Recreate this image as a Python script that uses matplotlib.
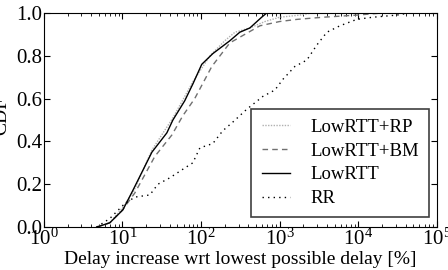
import numpy as np
import matplotlib
matplotlib.use("Agg")
import matplotlib.pyplot as plt

plt.rcParams['font.family'] = ['Liberation Serif', 'DejaVu Serif']
plt.rcParams['mathtext.fontset'] = 'stix'

# CDF curves (x = delay increase in %, y = CDF)
rp_x = [4.7, 6.9, 10, 14, 23.7, 43.8, 79, 130, 200, 270, 418, 650, 1000, 1800, 2560, 1e5]
rp_y = [0.0, 0.02, 0.09, 0.17, 0.36, 0.51, 0.68, 0.80, 0.87, 0.91, 0.93, 0.96, 0.98, 0.99, 1.0, 1.0]

bm_x = [4.7, 6.9, 10, 14.4, 25.8, 42.5, 58.6, 83, 137, 232, 560, 1000, 1660, 3550, 9600, 20500, 1e5]
bm_y = [0.0, 0.02, 0.08, 0.16, 0.33, 0.43, 0.52, 0.60, 0.75, 0.86, 0.94, 0.96, 0.97, 0.98, 0.99, 1.0, 1.0]

low_x = [4.7, 6.9, 10.1, 13.5, 23.7, 36.7, 43.8, 62, 79, 102, 141, 232, 311, 418, 590, 685, 1e5]
low_y = [0.0, 0.02, 0.08, 0.17, 0.35, 0.44, 0.50, 0.59, 0.67, 0.76, 0.81, 0.87, 0.91, 0.93, 0.98, 1.0, 1.0]

rr_x = [4.7, 6.9, 10.7, 14.4, 22.3, 28.2, 40, 58.6, 78.5, 96.6, 141, 189, 253, 381, 610, 870,
        1100, 1560, 2220, 2970, 3990, 5840, 9580, 15300, 30900, 45000, 1e5]
rr_y = [0.0, 0.04, 0.11, 0.14, 0.15, 0.20, 0.23, 0.27, 0.30, 0.37, 0.39, 0.45, 0.49, 0.55, 0.61, 0.64,
        0.69, 0.75, 0.78, 0.85, 0.91, 0.94, 0.97, 0.98, 0.99, 1.0, 1.0]

fig = plt.figure(figsize=(4.48, 2.7), dpi=100)
ax = fig.add_axes([0.098, 0.159, 0.877, 0.793])

ax.plot(rp_x, rp_y, color='#b0b0b0', lw=1.0, ls=(0, (1, 1)), label='LowRTT+RP')
ax.plot(bm_x, bm_y, color='#707070', lw=1.0, ls=(0, (4, 3)), label='LowRTT+BM')
ax.plot(low_x, low_y, color='black', lw=1.0, ls='-', label='LowRTT')
ax.plot(rr_x, rr_y, color='black', lw=1.0, ls=(0, (1, 3)), label='RR')

ax.set_xscale('log')
ax.set_xlim(1, 1e5)
ax.set_ylim(0, 1)
ax.set_yticks([0, 0.2, 0.4, 0.6, 0.8, 1.0])
ax.set_yticklabels(['0.0', '0.2', '0.4', '0.6', '0.8', '1.0'])
ax.tick_params(which='both', direction='in', top=True, right=True, labelsize=15, pad=1)
ax.tick_params(which='major', length=4)
ax.tick_params(which='minor', length=2)

ax.set_xlabel('Delay increase wrt lowest possible delay [%]', fontsize=14, labelpad=1)
ax.set_ylabel('CDF', fontsize=14)
ax.yaxis.set_label_coords(-0.085, 0.52)

leg = ax.legend(loc='lower right', bbox_to_anchor=(0.981, 0.045), fontsize=13.5,
                fancybox=False, framealpha=1, edgecolor='#404040',
                handlelength=1.5, handletextpad=1.1, borderpad=0.55, labelspacing=0.35,
                borderaxespad=0)
leg.get_frame().set_linewidth(1.2)

fig.savefig('out.png', dpi=100)
